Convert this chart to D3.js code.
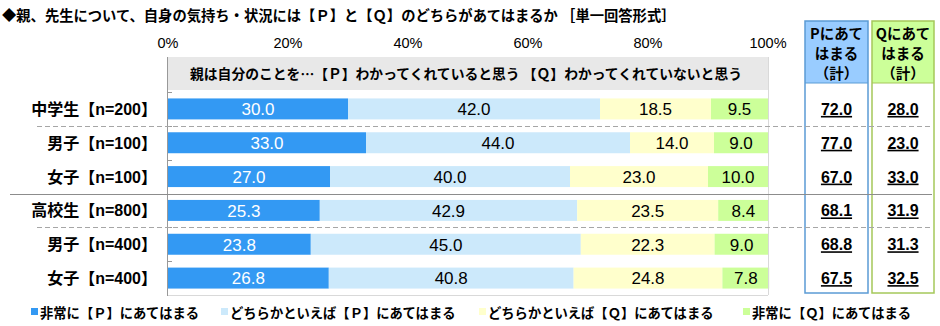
<!DOCTYPE html>
<html><head><meta charset="utf-8">
<script src="https://cdn.jsdelivr.net/npm/d3@7"></script>
<style>
body{margin:0;background:#fff;}
svg{display:block;}
text{font-family:"Liberation Sans","Noto Sans CJK JP",sans-serif;}
.jp{font-family:"Noto Sans CJK JP","Liberation Sans",sans-serif;}
</style></head>
<body>
<svg id="c" width="940" height="326"></svg>
<script>
const title = "◆親、先生について、自身の気持ち・状況には【Ｐ】と【Ｑ】のどちらがあてはまるか ［単一回答形式］";
const headerText = "親は自分のことを…【Ｐ】わかってくれていると思う 【Ｑ】わかってくれていないと思う";
const categories = ["中学生【n=200】","男子【n=100】","女子【n=100】","高校生【n=800】","男子【n=400】","女子【n=400】"];
const seriesNames = ["非常に【Ｐ】にあてはまる","どちらかといえば【Ｐ】にあてはまる","どちらかといえば【Ｑ】にあてはまる","非常に【Ｑ】にあてはまる"];
const s1 = [30.0,33.0,27.0,25.3,23.8,26.8];
const s2 = [42.0,44.0,40.0,42.9,45.0,40.8];
const s3 = [18.5,14.0,23.0,23.5,22.3,24.8];
const s4 = [9.5,9.0,10.0,8.4,9.0,7.8];
const pTotal = ["72.0","77.0","67.0","68.1","68.8","67.5"];
const qTotal = ["28.0","23.0","33.0","31.9","31.3","32.5"];
const xTicks = [0,20,40,60,80,100];
const colors = ["#3399F3","#CCE9FB","#FFFFCC","#CCFF99"];
const labelColors = ["#fff","#000","#000","#000"];

const svg = d3.select("#c");
const x = d3.scaleLinear().domain([0,100]).range([168,768]);
const y = d3.scaleBand().domain(categories).range([92,295]).paddingInner(0.38).paddingOuter(0.19);
const step = y.step();

// title
svg.append("text").attr("class","jp").attr("x",2).attr("y",21).attr("font-size",14.3).attr("font-weight","bold").text(title);

// x tick labels
svg.selectAll(".xt").data(xTicks).join("text")
  .attr("x",d=>x(d)).attr("y",47.5).attr("text-anchor","middle").attr("font-size",14.5).attr("fill","#000")
  .text(d=>d+"%");

// header band
svg.append("rect").attr("x",x(0)).attr("y",57).attr("width",x(100)-x(0)).attr("height",33).attr("fill","#E8E8E8");
svg.append("text").attr("class","jp").attr("x",(x(0)+x(100))/2-2).attr("y",78.5).attr("text-anchor","middle")
  .attr("font-size",13.8).attr("font-weight","bold").text(headerText);

// stacked bars
const series = [s1,s2,s3,s4];
const rows = categories.map((c,i)=>{
  let acc=0;
  return series.map((s,k)=>{const o={cat:c,k,v:s[i],x0:acc,x1:acc+s[i]};acc+=s[i];return o;});
}).flat();
svg.selectAll(".bar").data(rows).join("rect")
  .attr("x",d=>x(d.x0)).attr("width",d=>x(d.x1)-x(d.x0))
  .attr("y",d=>y(d.cat)).attr("height",y.bandwidth()).attr("fill",d=>colors[d.k]);
svg.selectAll(".vl").data(rows).join("text")
  .attr("x",d=>(x(d.x0)+x(d.x1))/2).attr("y",d=>y(d.cat)+y.bandwidth()/2+6.3)
  .attr("text-anchor","middle").attr("font-size",17).attr("fill",d=>labelColors[d.k])
  .text(d=>d.v.toFixed(1));

// plot frame
svg.append("line").attr("x1",x(100)+0.5).attr("x2",x(100)+0.5).attr("y1",57).attr("y2",295).attr("stroke","#D9D9D9");
svg.append("line").attr("x1",x(0)).attr("x2",x(100)).attr("y1",295.5).attr("y2",295.5).attr("stroke","#D9D9D9");
svg.append("line").attr("x1",x(0)-0.5).attr("x2",x(0)-0.5).attr("y1",57).attr("y2",296).attr("stroke","#999");
const tickYs = [92].concat(categories.slice(1).map(c=>y(c)-step*0.19));
svg.selectAll(".tk").data(tickYs).join("line")
  .attr("x1",x(0)).attr("x2",x(0)+4).attr("y1",d=>Math.round(d)+0.5).attr("y2",d=>Math.round(d)+0.5).attr("stroke","#999");

// category labels
svg.selectAll(".cl").data(categories).join("text")
  .attr("x",157).attr("y",d=>y(d)+y.bandwidth()/2+6).attr("text-anchor","end")
  .attr("font-size",16).attr("font-weight","bold").text(d=>d);

// right boxes
const boxes = [
  {x0:805,x1:868,fill:"#99CCFF",stroke:"#5B9BD5",lines:["Pにあて","はまる","（計）"],vals:pTotal},
  {x0:872,x1:934,fill:"#CCFF99",stroke:"#A5C85A",lines:["Qにあて","はまる","（計）"],vals:qTotal}
];
boxes.forEach(b=>{
  svg.append("rect").attr("x",b.x0).attr("y",21).attr("width",b.x1-b.x0).attr("height",62).attr("fill",b.fill);
  svg.append("rect").attr("x",b.x0).attr("y",21).attr("width",b.x1-b.x0).attr("height",272)
    .attr("fill","none").attr("stroke",b.stroke).attr("stroke-width",1.5);
  svg.append("line").attr("x1",b.x0).attr("x2",b.x1).attr("y1",83).attr("y2",83).attr("stroke",b.stroke).attr("stroke-width",1.2);
  const cx=(b.x0+b.x1)/2;
  b.lines.forEach((t,i)=>{
    svg.append("text").attr("class","jp").attr("x",cx).attr("y",38.5+i*20).attr("text-anchor","middle")
      .attr("font-size",14.5).attr("font-weight","bold").text(t);
  });
  svg.selectAll(null).data(categories).join("text")
    .attr("x",cx).attr("y",d=>y(d)+y.bandwidth()/2+6).attr("text-anchor","middle")
    .attr("font-size",16).attr("font-weight","bold").attr("text-decoration","underline")
    .text((d,i)=>b.vals[i]);
});

// separators
const sep = [
  {yy:(y(categories[0])+y.bandwidth()+y(categories[1]))/2, dash:true, x1:37},
  {yy:(y(categories[2])+y.bandwidth()+y(categories[3]))/2, dash:false, x1:10},
  {yy:(y(categories[3])+y.bandwidth()+y(categories[4]))/2, dash:true, x1:37}
];
sep.forEach(s=>{
  svg.append("line").attr("x1",s.x1).attr("x2",932).attr("y1",Math.round(s.yy)+0.5).attr("y2",Math.round(s.yy)+0.5)
    .attr("stroke",s.dash?"#A6A6A6":"#8C8C8C").attr("stroke-width",1.2).attr("stroke-dasharray",s.dash?"5,3":null);
});

// legend
const legX = [31,221,479,743];
seriesNames.forEach((n,i)=>{
  svg.append("rect").attr("x",legX[i]).attr("y",308).attr("width",7).attr("height",7).attr("fill",colors[i]);
  svg.append("text").attr("class","jp").attr("x",legX[i]+9).attr("y",317.5).attr("font-size",13.3).attr("font-weight","bold").text(n);
});
</script>
</body></html>
